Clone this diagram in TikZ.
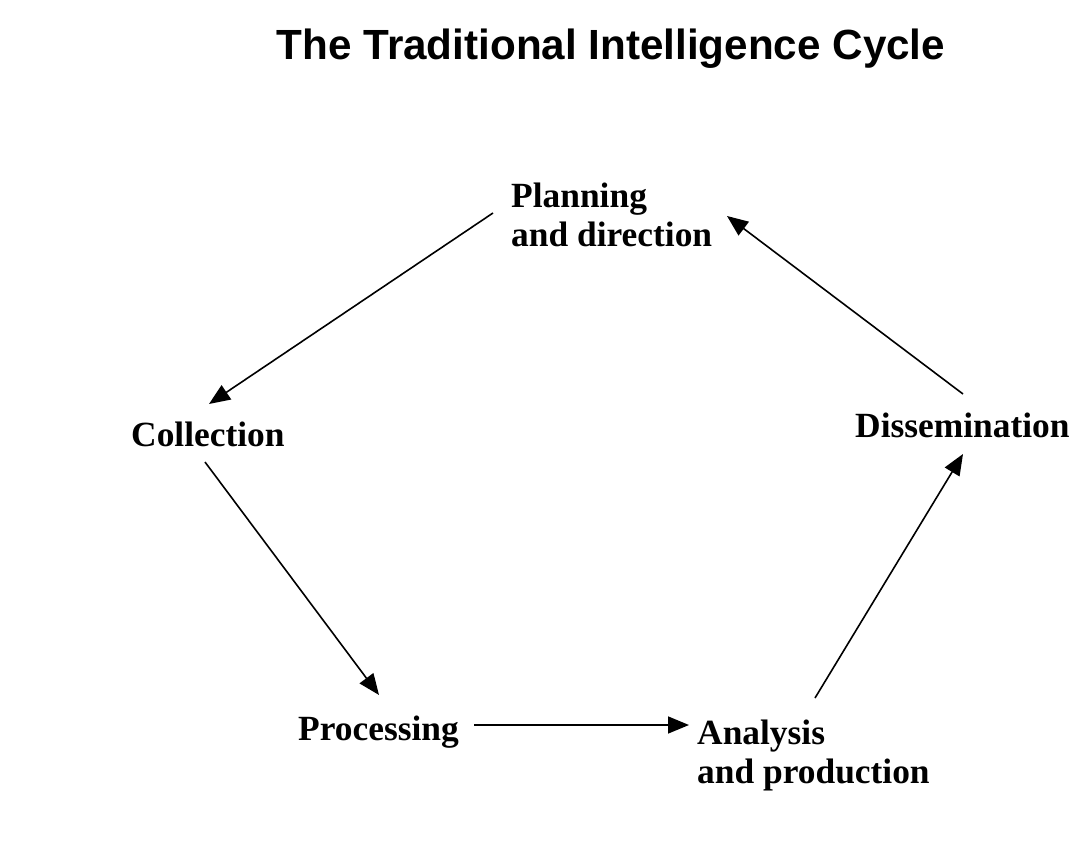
\documentclass[tikz,border=0pt]{standalone}
\usepackage{fontspec}
\setmainfont{Liberation Serif}
\newfontfamily\titlefont{Liberation Sans}
\usetikzlibrary{arrows.meta}
\begin{document}
\begin{tikzpicture}[x=1pt,y=-1pt,
  lbl/.style={anchor=base west, inner sep=0pt, font=\fontsize{35.4}{39.5}\selectfont\bfseries},
  conn/.style={line width=1.6pt, -{Triangle[length=21pt,width=17pt]}}]
\useasboundingbox[fill=white] (0,0) rectangle (1080,843);
\node[anchor=base, inner sep=0pt, font=\titlefont\fontsize{42.2}{48}\selectfont\bfseries] (title) at (611,60) {The Traditional Intelligence Cycle};
\node[lbl] (plan) at (511,207) {\begin{tabular}[t]{@{}l@{}}Planning\\and direction\end{tabular}};
\node[lbl] (coll) at (131,446) {Collection};
\node[lbl] (diss) at (855,437) {Dissemination};
\node[lbl] (proc) at (298,740) {Processing};
\node[lbl] (anal) at (697,744) {\begin{tabular}[t]{@{}l@{}}Analysis\\and production\end{tabular}};
\coordinate (p1) at (493,213);
\coordinate (c1) at (209,404);
\coordinate (c2) at (205,462);
\coordinate (r1) at (379,695);
\coordinate (r2) at (474,725);
\coordinate (a1) at (689,725);
\coordinate (a2) at (815,698);
\coordinate (d1) at (963,454);
\coordinate (d2) at (963,394);
\coordinate (p2) at (727,216);
\draw[conn] (p1) -- (c1);
\draw[conn] (c2) -- (r1);
\draw[conn] (r2) -- (a1);
\draw[conn] (a2) -- (d1);
\draw[conn] (d2) -- (p2);
\end{tikzpicture}
\end{document}
